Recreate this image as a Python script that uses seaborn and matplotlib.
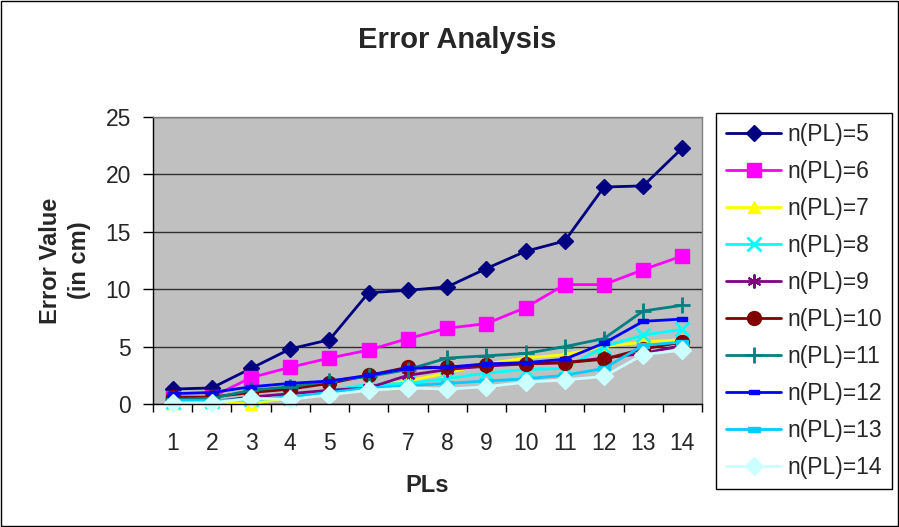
import matplotlib
matplotlib.use('Agg')
from matplotlib import pyplot as plt
from matplotlib.patches import Rectangle
from matplotlib.ticker import FixedLocator
import seaborn as sns
import numpy as np

# %%
# Data
pls = list(range(1, 15))
labels = ['n(PL)=5', 'n(PL)=6', 'n(PL)=7', 'n(PL)=8', 'n(PL)=9',
          'n(PL)=10', 'n(PL)=11', 'n(PL)=12', 'n(PL)=13', 'n(PL)=14']

n5 = [1.3, 1.4, 3.1, 4.8, 5.6, 9.7, 9.9, 10.2, 11.8, 13.3, 14.2, 18.9, 19.0, 22.3]
n6 = [0.5, 0.6, 2.3, 3.2, 4.0, 4.7, 5.7, 6.6, 7.0, 8.4, 10.4, 10.4, 11.7, 12.9]
n7 = [0.1, 0.2, 0.0, 0.6, 1.0, 1.6, 2.0, 2.7, 3.5, 4.0, 4.3, 5.0, 5.4, 5.6]
n8 = [0.2, 0.3, 0.4, 0.5, 1.2, 1.7, 1.8, 2.2, 2.7, 3.0, 3.1, 5.0, 6.0, 6.5]
n9 = [0.1, 0.2, 0.6, 0.9, 1.2, 1.4, 2.5, 3.0, 3.3, 3.5, 3.6, 4.0, 4.4, 5.1]
n10 = [0.6, 0.6, 1.0, 1.3, 1.8, 2.5, 3.2, 3.2, 3.4, 3.5, 3.6, 3.9, 4.8, 5.4]
n11 = [0.4, 0.5, 1.2, 1.5, 2.0, 2.4, 3.0, 4.0, 4.2, 4.4, 5.0, 5.7, 8.1, 8.6]
n12 = [0.9, 1.0, 1.5, 1.8, 2.0, 2.5, 3.1, 3.2, 3.5, 3.6, 3.9, 5.3, 7.2, 7.4]
n13 = [0.3, 0.3, 0.4, 0.6, 1.0, 1.4, 1.6, 1.8, 2.0, 2.2, 2.5, 3.1, 5.1, 5.4]
n14 = [0.1, 0.1, 0.5, 0.4, 0.8, 1.2, 1.4, 1.3, 1.5, 1.9, 2.1, 2.4, 4.3, 4.7]

series = [n5, n6, n7, n8, n9, n10, n11, n12, n13, n14]
colors = ['#000080', '#FF00FF', '#FFFF00', '#00FFFF', '#800080',
          '#800000', '#008080', '#0000FF', '#00CCFF', '#CCFFFF']

# Excel-like marker shapes
dash = [(-1, -0.45), (1, -0.45), (1, 0.45), (-1, 0.45), (-1, -0.45)]
markers = ['D', 's', '^', 'x', (6, 2, 0), 'o', '+', dash, dash, 'D']
sizes = [8, 10, 9, 10, 10, 10, 11, 7, 8, 9]
mews = [1, 1, 1, 2, 1.5, 1, 2, 1, 1, 1]

# %%
sns.set_style('white')
plt.rcParams['font.family'] = ['Liberation Sans', 'DejaVu Sans']

fig = plt.figure(figsize=(8.99, 5.27), dpi=100)
ax = fig.add_axes([153 / 899, 1 - 404 / 527, (702 - 153) / 899, (404 - 117) / 527])
ax.set_facecolor('#C0C0C0')

for vals, lab, c, m, ms, mew in zip(series, labels, colors, markers, sizes, mews):
    sns.lineplot(x=pls, y=vals, ax=ax, color=c, marker=m, markersize=ms,
                 markeredgecolor=c, markerfacecolor=c, markeredgewidth=mew,
                 linewidth=2, label=lab, clip_on=False)

ax.set_xlim(0.5, 14.5)
ax.set_ylim(0, 25)
ax.set_yticks([0, 5, 10, 15, 20, 25])
ax.yaxis.grid(True, color='#303030', linewidth=1)
ax.set_axisbelow(True)

# category axis: labels at centres, tick marks between categories
ax.set_xticks(pls)
ax.xaxis.set_minor_locator(FixedLocator(np.arange(0.5, 15, 1)))
ax.tick_params(axis='x', which='major', length=0, pad=20, labelsize=16.5)
ax.tick_params(axis='x', which='minor', length=6, width=1, color='black', bottom=True)
ax.tick_params(axis='y', length=7, width=1, color='black', left=True, labelsize=16.5, pad=9)

for s in ['top', 'right']:
    ax.spines[s].set_color('#808080')
for s in ['left', 'bottom']:
    ax.spines[s].set_color('black')
for s in ax.spines.values():
    s.set_linewidth(1)

ax.set_xlabel('PLs', fontsize=17, fontweight='bold', va='center')
ax.xaxis.set_label_coords(0.5, (404 - 485) / 287)
ax.set_ylabel('Error Value\n(in cm)', fontsize=17, fontweight='bold', va='center',
              linespacing=1.3)
ax.yaxis.set_label_coords((65 - 153) / 549, 0.5)
fig.text(457 / 899, 1 - 40 / 527, 'Error Analysis', fontsize=21, fontweight='bold',
         ha='center', va='center')

leg = ax.legend(loc='upper left', bbox_to_anchor=(716 / 899, 1 - 113 / 527),
                bbox_transform=fig.transFigure, fontsize=16.5, frameon=True,
                fancybox=False, edgecolor='black', framealpha=1,
                handlelength=2.4, labelspacing=0.61, borderpad=0.45,
                handletextpad=0.25, borderaxespad=0)
leg.get_frame().set_linewidth(1)

fig.patches.append(Rectangle((0.001, 0.001), 0.998, 0.997, transform=fig.transFigure,
                             fill=False, edgecolor='black', linewidth=1))

fig.savefig('out.png', dpi=100)
